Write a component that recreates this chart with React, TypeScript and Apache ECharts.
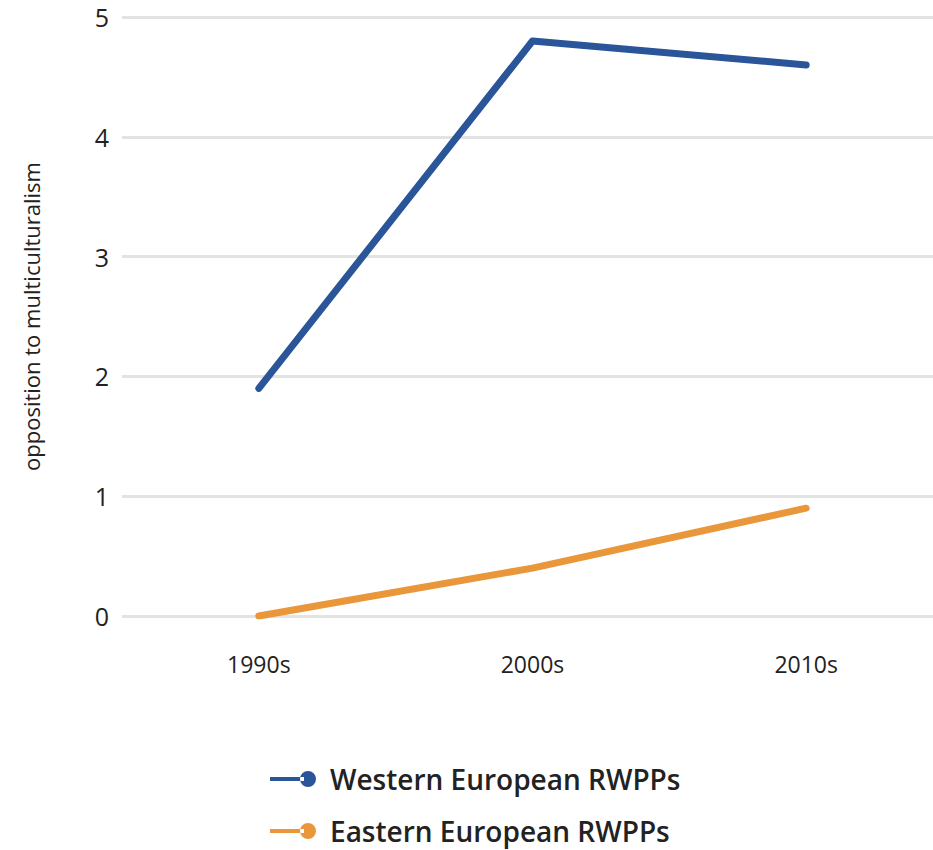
import React, { useEffect, useRef } from "react";
import * as echarts from "echarts";

const categories = ["1990s", "2000s", "2010s"];
const westernValues = [1.9, 4.8, 4.6];
const easternValues = [0, 0.4, 0.9];
const seriesNames = ["Western European RWPPs", "Eastern European RWPPs"];
const yTicks = { min: 0, max: 5, interval: 1 };
const yAxisTitle = "opposition to multiculturalism";

const BLUE = "#2a5599";
const ORANGE = "#ea973b";
const TICK_FONT = "'Open Sans', sans-serif";
const ICON =
  "path://M0,6 L34,6 L34,10 L0,10 Z M30,8 A8,8 0 1,0 46,8 A8,8 0 1,0 30,8 Z";

export default function App() {
  const ref = useRef<HTMLDivElement>(null);
  useEffect(() => {
    if (!ref.current) return;
    const chart = echarts.init(ref.current, null, { renderer: "svg" });
    chart.setOption({
      animation: false,
      backgroundColor: "#ffffff",
      grid: { left: 122, right: 8, top: 17, bottom: 234 },
      legend: {
        orient: "vertical",
        left: 270,
        top: 763,
        padding: 0,
        itemWidth: 46,
        itemHeight: 16,
        itemGap: 20,
        icon: ICON,
        data: seriesNames,
        textStyle: {
          fontFamily: "'Open Sans', sans-serif",
          fontWeight: 600,
          fontSize: 28,
          color: "#222222",
          lineHeight: 32,
          padding: [0, 0, 0, 9],
        },
      },
      xAxis: {
        type: "category",
        data: categories,
        boundaryGap: true,
        axisLine: { show: false },
        axisTick: { show: false },
        axisLabel: {
          margin: 36,
          fontFamily: TICK_FONT,
          fontSize: 23,
          color: "#222222",
        },
      },
      yAxis: {
        type: "value",
        min: yTicks.min,
        max: yTicks.max,
        interval: yTicks.interval,
        name: yAxisTitle,
        nameLocation: "middle",
        nameGap: 80,
        nameTextStyle: {
          fontFamily: "'Open Sans', sans-serif",
          fontSize: 22,
          color: "#222222",
        },
        axisLine: { show: false },
        axisTick: { show: false },
        axisLabel: {
          margin: 13,
          fontFamily: TICK_FONT,
          fontSize: 25,
          color: "#222222",
        },
        splitLine: { lineStyle: { color: "#e3e3e3", width: 3 } },
      },
      series: [
        {
          name: seriesNames[0],
          type: "line",
          data: westernValues,
          showSymbol: false,
          symbol: "circle",
          color: BLUE,
          lineStyle: { color: BLUE, width: 7, cap: "round", join: "round" },
        },
        {
          name: seriesNames[1],
          type: "line",
          data: easternValues,
          showSymbol: false,
          symbol: "circle",
          color: ORANGE,
          lineStyle: { color: ORANGE, width: 7, cap: "round", join: "round" },
        },
      ],
    });
    return () => chart.dispose();
  }, []);
  return (
    <div
      style={{
        position: "absolute",
        left: 0,
        top: 0,
        width: 933,
        height: 850,
        overflow: "hidden",
      }}
    >
      <div ref={ref} style={{ width: 951, height: 850 }} />
    </div>
  );
}
